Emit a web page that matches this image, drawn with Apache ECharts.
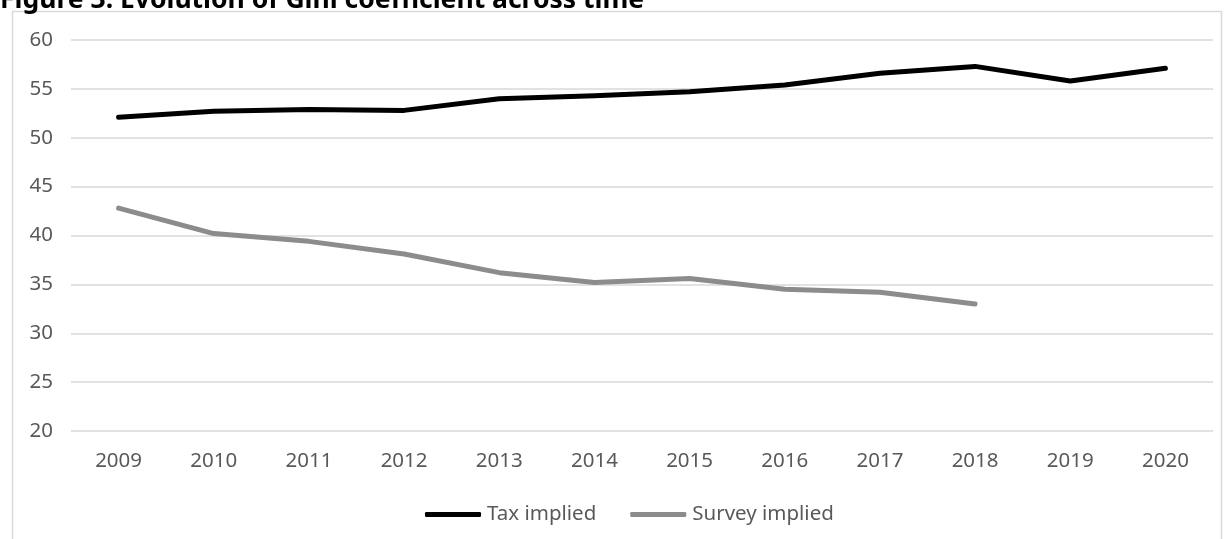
<!DOCTYPE html>
<html><head><meta charset="utf-8">
<script src="https://cdn.jsdelivr.net/npm/echarts@6/dist/echarts.min.js"></script>
<style>html,body{margin:0;padding:0;background:#fff}#c{width:1226px;height:539px}</style>
</head><body><div id="c"></div>
<script>
const years = ['2009','2010','2011','2012','2013','2014','2015','2016','2017','2018','2019','2020'];
const taxImplied = [52.1, 52.7, 52.9, 52.8, 54.0, 54.3, 54.7, 55.4, 56.6, 57.3, 55.8, 57.1];
const surveyImplied = [42.8, 40.2, 39.4, 38.1, 36.2, 35.2, 35.6, 34.5, 34.2, 33.0, null, null];
const titleText = 'Figure 3: Evolution of Gini coefficient across time';

const chart = echarts.init(document.getElementById('c'), null, {renderer:'canvas'});
const font = 'Noto Sans';
chart.setOption({
  animation:false,
  backgroundColor:'#fff',
  graphic:[
    {type:'rect', shape:{x:12.5,y:11.5,width:1209,height:560}, style:{fill:'none',stroke:'#d9d9d9',lineWidth:1.5}, z:-1},
    {type:'text', x:0, y:-13, style:{text:titleText, font:'bold 26.5px "Noto Sans"', fill:'#000', verticalAlign:'top'}}
  ],
  grid:{left:71, right:13, top:40, bottom:108, containLabel:false},
  xAxis:{type:'category', data:years, boundaryGap:true,
    axisLine:{show:false}, axisTick:{show:false},
    axisLabel:{color:'#595959', fontFamily:font, fontSize:20.5, margin:20}},
  yAxis:{type:'value', min:20, max:60, interval:5,
    axisLine:{show:false}, axisTick:{show:false},
    axisLabel:{color:'#595959', fontFamily:font, fontSize:20.5, margin:18}},
  legend:{top:499, left:420, itemWidth:56, itemHeight:5, itemGap:34,
    icon:'roundRect',
    textStyle:{color:'#595959', fontFamily:font, fontSize:20.5, padding:[0,0,0,1]},
    data:['Tax implied','Survey implied']},
  series:[
    {name:'Tax implied', type:'line', data:taxImplied, showSymbol:false, symbol:'none',
     lineStyle:{color:'#000', width:5, cap:'round', join:'round'}, itemStyle:{color:'#000'}},
    {name:'Survey implied', type:'line', data:surveyImplied, showSymbol:false, symbol:'none',
     lineStyle:{color:'#8c8c8c', width:5, cap:'round', join:'round'}, itemStyle:{color:'#8c8c8c'}}
  ]
});
chart.setOption({yAxis:{splitLine:{lineStyle:{color:'#d9d9d9', width:1.5}}}});
</script></body></html>
